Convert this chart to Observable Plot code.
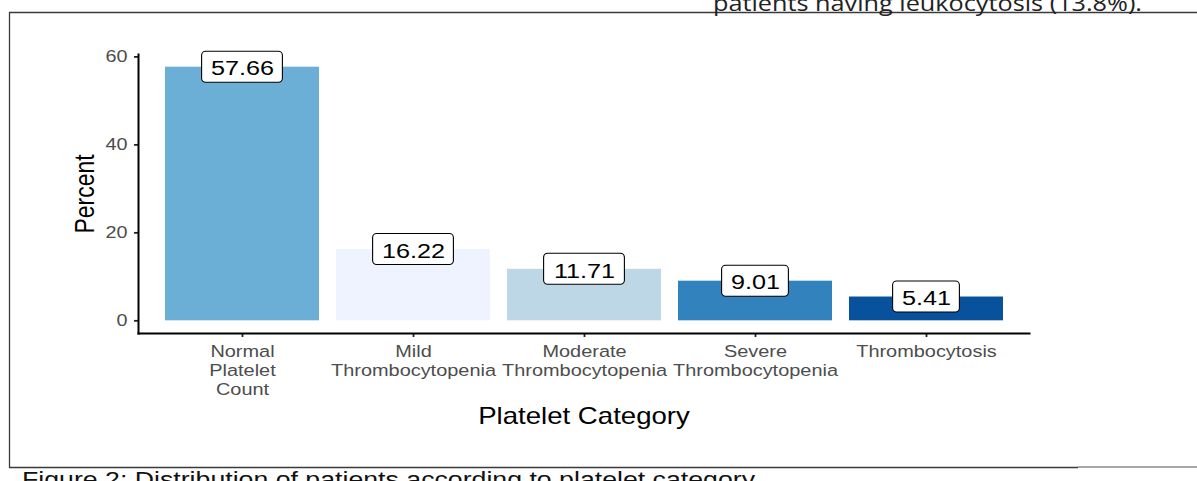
<!DOCTYPE html>
<html>
<head>
<meta charset="utf-8">
<script src="https://cdn.jsdelivr.net/npm/d3@7"></script>
<script src="https://cdn.jsdelivr.net/npm/@observablehq/plot@0.6"></script>
<style>
  html, body { margin: 0; padding: 0; background: #fff; }
  #page { position: relative; width: 1197px; height: 481px; overflow: hidden; background: #fff; }
  #page > svg { position: absolute; left: 0; top: 0; }
</style>
</head>
<body>
<div id="page">
  <svg id="doc" width="1197" height="481">
    <line x1="9" x2="1197" y1="12.5" y2="12.5" stroke="#3a3a3a" stroke-width="1.4"/>
    <line x1="9.5" x2="9.5" y1="12" y2="468" stroke="#3a3a3a" stroke-width="1.3"/>
    <line x1="9" x2="1078" y1="467.5" y2="467.5" stroke="#3a3a3a" stroke-width="1.4"/>
    <line x1="1078" x2="1197" y1="467" y2="467" stroke="#8a8a8a" stroke-width="1.4"/>
    <text id="toptext" x="713" y="11" font-family="'Open Sans', 'Noto Sans', sans-serif" font-size="22" fill="#222" textLength="429" lengthAdjust="spacingAndGlyphs">patients having leukocytosis (13.8%).</text>
    <text id="caption" x="22" y="487" font-family="'Liberation Sans', Arial, sans-serif" font-size="22" fill="#111" textLength="733" lengthAdjust="spacingAndGlyphs">Figure 2: Distribution of patients according to platelet category</text>
  </svg>
</div>
<script>
const categories = ["Normal Platelet Count", "Mild Thrombocytopenia", "Moderate Thrombocytopenia", "Severe Thrombocytopenia", "Thrombocytosis"];
const tickLabels = ["Normal\nPlatelet\nCount", "Mild\nThrombocytopenia", "Moderate\nThrombocytopenia", "Severe\nThrombocytopenia", "Thrombocytosis"];
const percents = [57.66, 16.22, 11.71, 9.01, 5.41];
const barColors = ["#6BAED6", "#EFF3FF", "#BDD7E7", "#3182BD", "#08519C"];
const yTicks = [0, 20, 40, 60];
const xTitle = "Platelet Category";
const yTitle = "Percent";

const data = categories.map((c, i) => ({cat: c, v: percents[i], color: barColors[i], label: percents[i].toFixed(2)}));
const ymax = d3.max(percents);
const pad = 0.05 * ymax;

const bandwidth = 154.2;
const boxW = s => 14 * s.length + 11;

const plot = Plot.plot({
  width: 1197,
  height: 481,
  marginLeft: 138,
  marginRight: 168,
  marginTop: 54,
  marginBottom: 148,
  style: {fontFamily: "'Liberation Sans', Arial, sans-serif", background: "transparent", overflow: "visible"},
  x: {type: "band", domain: categories, paddingInner: 0.1, paddingOuter: 0.15},
  y: {domain: [-pad, ymax + pad]},
  marks: [
    Plot.barY(data, {x: "cat", y: "v", fill: "color"}),
    ...data.map(d => Plot.barY([d], {
      x: "cat", y1: "v", y2: "v",
      insetLeft: (bandwidth - boxW(d.label)) / 2,
      insetRight: (bandwidth - boxW(d.label)) / 2,
      insetTop: -15.5, insetBottom: -15.5,
      rx: 4, fill: "white", stroke: "black", strokeWidth: 1.1
    })),
    Plot.text(data, {x: "cat", y: "v", text: "label", fontSize: 21, fill: "black", dy: 1.5}),
    Plot.axisY({ticks: yTicks, tickSize: 4, tickPadding: 7, fontSize: 16.5, fill: "#4D4D4D", stroke: "#222", strokeWidth: 1.8, label: null}),
    Plot.axisX({tickSize: 4, tickPadding: 6, fontSize: 16.6, fill: "#4D4D4D", stroke: "#222", strokeWidth: 1.8, label: null, lineHeight: 1.145,
      tickFormat: d => tickLabels[categories.indexOf(d)]}),
    Plot.frame({anchor: "left", stroke: "black", strokeWidth: 2}),
    Plot.frame({anchor: "bottom", stroke: "black", strokeWidth: 2}),
    Plot.text([xTitle], {text: d => d, frameAnchor: "bottom", dy: 90, lineAnchor: "bottom", fontSize: 23, fill: "black"}),
    Plot.text([yTitle], {text: d => d, frameAnchor: "left", dx: -45, rotate: -90, textAnchor: "middle", lineAnchor: "bottom", fontSize: 23, fill: "black"})
  ]
});

// horizontal stretch of glyphs, as in the reference image
const S = 1.2;
plot.querySelectorAll("text").forEach(el => {
  const t = el.getAttribute("transform");
  if (t && /translate\([^)]*\)/.test(t)) {
    el.setAttribute("transform", t.replace(/translate\([^)]*\)/, m => m + ` scale(${S},1)`));
  } else {
    const x = +el.getAttribute("x") || 0, y = +el.getAttribute("y") || 0;
    el.removeAttribute("x"); el.removeAttribute("y");
    el.querySelectorAll("tspan").forEach(ts => { if (ts.getAttribute("x") !== null && +ts.getAttribute("x") === x) ts.setAttribute("x", 0); });
    el.setAttribute("transform", `translate(${x},${y}) scale(${S},1)` + (t ? " " + t : ""));
  }
});

document.getElementById("page").appendChild(plot);
</script>
</body>
</html>
